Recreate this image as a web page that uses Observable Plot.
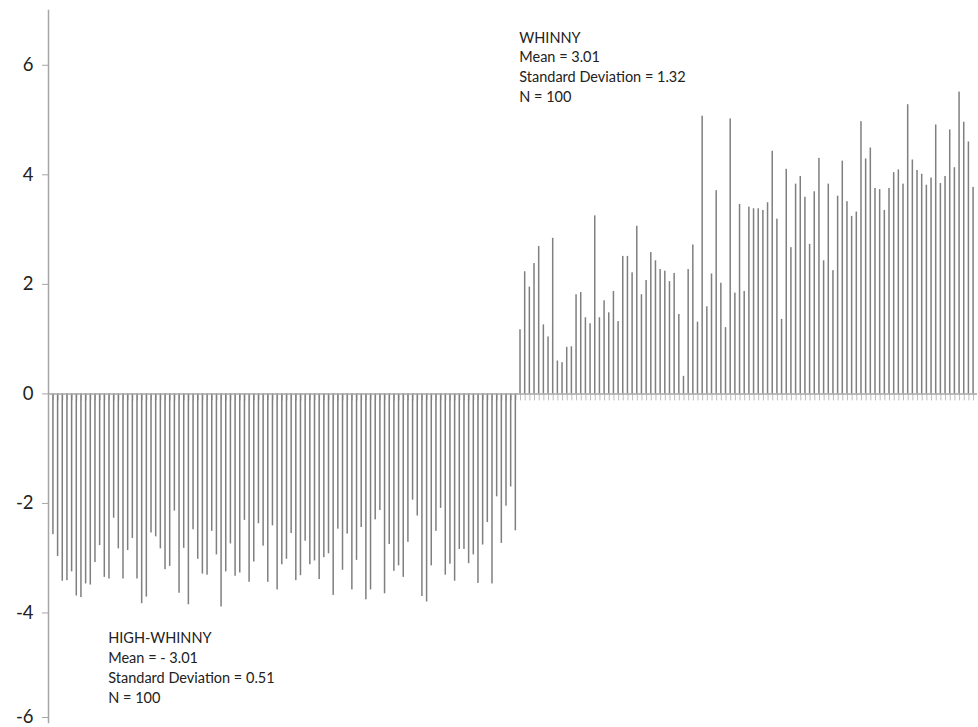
<!DOCTYPE html>
<html>
<head>
<meta charset="utf-8">
<script src="https://cdn.jsdelivr.net/npm/d3@7"></script>
<script src="https://cdn.jsdelivr.net/npm/@observablehq/plot@0.6"></script>
<style>
  html, body { margin: 0; padding: 0; background: #fff; }
  #chart svg { display: block; }
</style>
</head>
<body>
<div id="chart"></div>
<script>
// HIGH-WHINNY responses (plotted below zero)
const highWhinny = [
  -2.57, -2.97, -3.42, -3.41, -3.25, -3.69, -3.72, -3.47, -3.49, -3.08,
  -2.77, -3.35, -3.38, -2.27, -2.83, -3.38, -2.86, -2.64, -3.38, -3.83,
  -3.71, -2.54, -2.61, -2.83, -3.21, -3.15, -2.14, -3.64, -2.82, -3.85,
  -2.48, -3.02, -3.29, -3.31, -2.51, -2.94, -3.89, -3.25, -2.74, -3.33,
  -3.27, -2.31, -3.44, -3.07, -2.37, -2.78, -3.44, -2.41, -3.58, -3.12,
  -3.02, -2.55, -3.41, -3.32, -2.69, -3.12, -3.05, -3.39, -2.99, -2.92,
  -3.68, -2.47, -3.22, -2.56, -3.58, -3.04, -2.44, -3.76, -3.58, -2.30,
  -2.13, -3.65, -2.75, -3.24, -3.14, -3.35, -2.71, -1.94, -2.23, -3.70,
  -3.80, -3.14, -2.51, -2.09, -3.31, -3.11, -3.42, -2.84, -2.84, -3.10,
  -2.94, -3.46, -2.76, -2.35, -3.47, -1.88, -2.73, -2.05, -1.70, -2.50
];
// WHINNY responses (plotted above zero)
const whinny = [
  1.17, 2.23, 1.95, 2.38, 2.69, 1.26, 1.04, 2.84, 0.60, 0.57,
  0.85, 0.86, 1.81, 1.85, 1.39, 1.28, 3.25, 1.39, 1.70, 1.48,
  1.87, 1.32, 2.51, 2.51, 2.21, 3.06, 1.81, 2.07, 2.58, 2.43,
  2.27, 2.24, 2.05, 2.20, 1.45, 0.32, 2.27, 2.72, 1.31, 5.07,
  1.59, 2.19, 3.71, 2.02, 1.21, 5.02, 1.84, 3.46, 1.87, 3.41,
  3.38, 3.38, 3.35, 3.49, 4.43, 3.19, 1.36, 4.10, 2.67, 3.83,
  3.97, 3.59, 2.73, 3.69, 4.30, 2.43, 3.83, 2.25, 3.61, 4.25,
  3.51, 3.24, 3.32, 4.97, 4.29, 4.49, 3.75, 3.73, 3.35, 3.75,
  4.04, 4.09, 3.83, 5.28, 4.27, 4.08, 4.01, 3.81, 3.94, 4.91,
  3.84, 3.97, 4.82, 4.13, 5.51, 4.96, 4.60, 3.77
];
const yTicks = [-6, -4, -2, 0, 2, 4, 6];
const whinnyLabel = ["WHINNY", "Mean = 3.01", "Standard Deviation = 1.32", "N = 100"];
const highLabel = ["HIGH-WHINNY", "Mean = - 3.01", "Standard Deviation = 0.51", "N = 100"];

const values = highWhinny.concat(whinny);
const rows = values.map((v, i) => ({i, v}));
const cats = rows.map(d => d.i);

const annotations = [
  {i: highWhinny.length, y: 6.66, text: whinnyLabel.join("\n"), dx: -3},
  {i: 12, y: -4.31, text: highLabel.join("\n"), dx: -1}
];

const axisColor = "#a6a6a6";
const yMin = d3.min(yTicks);

const chart = Plot.plot({
  width: 978,
  height: 727,
  marginLeft: 48,
  marginRight: 1,
  marginTop: 10,
  marginBottom: 5,
  style: {fontFamily: "Lato, 'Open Sans', sans-serif", background: "#fff"},
  x: {type: "band", domain: cats, padding: 0.68, align: 0.5, axis: null, insetLeft: 1},
  y: {domain: [-6, 7], axis: null},
  marks: [
    Plot.ruleX(cats, {x: d => d, y1: 0, y2: 0, insetBottom: -7, stroke: "#bdbdbd", strokeWidth: 1}),
    Plot.barY(rows, {x: "i", y: "v", fill: "#7f7f7f"}),
    Plot.ruleY([0], {stroke: axisColor, strokeWidth: 1.5}),
    Plot.frame({anchor: "left", stroke: axisColor, strokeWidth: 1.5}),
    Plot.axisY({
      ticks: yTicks.filter(t => t !== yMin),
      tickSize: 6,
      tickPadding: 9,
      stroke: axisColor,
      tickFormat: d => String(d),
      fontSize: 18.5,
      fill: "#222"
    }),
    Plot.axisY({
      ticks: [yMin],
      tickSize: 6,
      tickPadding: 9,
      stroke: axisColor,
      tickFormat: d => String(d),
      fontSize: 18.5,
      fill: "#222",
      textStroke: "none",
      dy: -5
    }),
    Plot.text(annotations, {
      x: "i", y: "y", text: "text", dx: "dx",
      textAnchor: "start", lineAnchor: "top",
      lineHeight: 1.36, fontSize: 14.5, fill: "#222"
    })
  ]
});
document.getElementById("chart").appendChild(chart);
</script>
</body>
</html>
